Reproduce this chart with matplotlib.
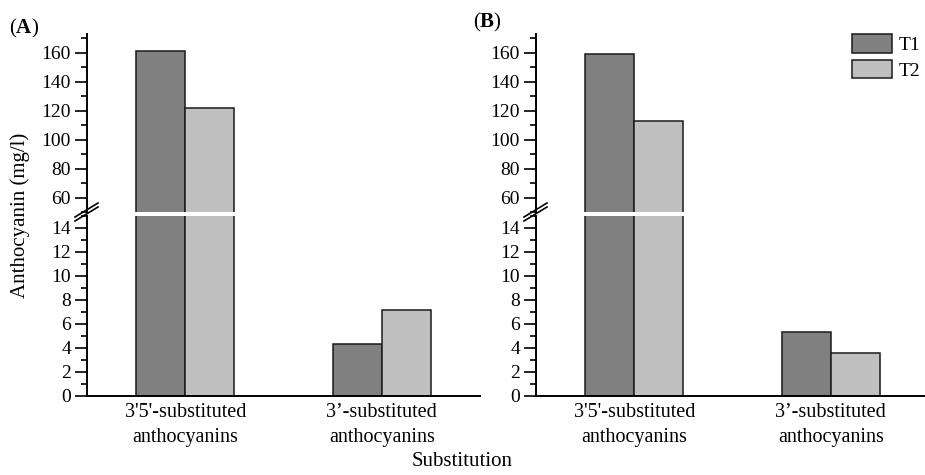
import numpy as np
import matplotlib
matplotlib.use("Agg")
import matplotlib.pyplot as plt
from matplotlib.lines import Line2D
from matplotlib.ticker import MultipleLocator

plt.rcParams['font.family'] = ['Liberation Serif', 'DejaVu Serif']
plt.rcParams['mathtext.fontset'] = 'custom'
plt.rcParams['mathtext.rm'] = 'Liberation Serif'
plt.rcParams['mathtext.bf'] = 'Liberation Serif:bold'

# data
categories = ["3'5'-substituted\nanthocyanins", "3\u2019-substituted\nanthocyanins"]
series = ["T1", "T2"]
panel_a_t1 = [161.4, 4.35]
panel_a_t2 = [121.9, 7.2]
panel_b_t1 = [158.9, 5.3]
panel_b_t2 = [113.0, 3.6]

colors = ["#808080", "#c0c0c0"]
W, H = 925, 475
fig = plt.figure(figsize=(W / 100, H / 100), dpi=100)

lw = 1.4
width = 0.25
x = np.arange(len(categories))
tick_fs = 14


def panel(left_px, t1, t2):
    axw = 393 / W
    left = left_px / W
    up = fig.add_axes([left, (H - 212) / H, axw, 178 / H])
    lo = fig.add_axes([left, (H - 396) / H, axw, 180 / H])
    for ax in (up, lo):
        ax.bar(x - width / 2, t1, width, color=colors[0], edgecolor="#1a1a1a", linewidth=1.1, label=series[0])
        ax.bar(x + width / 2, t2, width, color=colors[1], edgecolor="#1a1a1a", linewidth=1.1, label=series[1])
        ax.set_xlim(-0.5, 1.5)
        ax.spines['top'].set_visible(False)
        ax.spines['right'].set_visible(False)
        ax.spines['left'].set_linewidth(lw)
        ax.spines['bottom'].set_linewidth(lw)
        ax.tick_params(axis='y', which='major', length=8.5, width=1.2, labelsize=tick_fs, pad=3)
        ax.tick_params(axis='y', which='minor', length=4.3, width=1.2)
    up.set_ylim(50, 173)
    up.set_yticks([60, 80, 100, 120, 140, 160])
    up.yaxis.set_minor_locator(MultipleLocator(10))
    up.spines['bottom'].set_visible(False)
    up.set_xticks([])
    lo.set_ylim(0, 15)
    lo.set_yticks(range(0, 15, 2))
    lo.yaxis.set_minor_locator(MultipleLocator(1))
    lo.set_xticks(x)
    lo.set_xticklabels(categories, fontsize=14.5, linespacing=1.45)
    lo.tick_params(axis='x', length=0, pad=5)

    # break marks on the y axis
    for dy in (0, 4):
        fig.add_artist(Line2D([(left_px - 12) / W, (left_px + 11) / W],
                              [(H - 221 + dy) / H, (H - 207 + dy) / H],
                              color="black", linewidth=1.2))
    return up, lo


upA, loA = panel(87, panel_a_t1, panel_a_t2)
upB, loB = panel(536, panel_b_t1, panel_b_t2)

fig.text(9 / W, (H - 28) / H, r"($\mathbf{A}$)", fontsize=15, va='center', ha='left')
fig.text(473 / W, (H - 22) / H, r"($\mathbf{B}$)", fontsize=15, va='center', ha='left')

upB.legend(loc='upper left', bbox_to_anchor=(852 / W, (H - 34) / H), bbox_transform=fig.transFigure,
           frameon=False, fontsize=14, handlelength=2.05, handleheight=1.1, handletextpad=0.35,
           labelspacing=0.3, borderaxespad=0, borderpad=0)

fig.text(20 / W, (H - 215) / H, "Anthocyanin (mg/l)", rotation=90, fontsize=15, ha='center', va='center')
fig.text(462 / W, (H - 462) / H, "Substitution", fontsize=15, ha='center', va='center')

fig.savefig("out.png", dpi=100)
